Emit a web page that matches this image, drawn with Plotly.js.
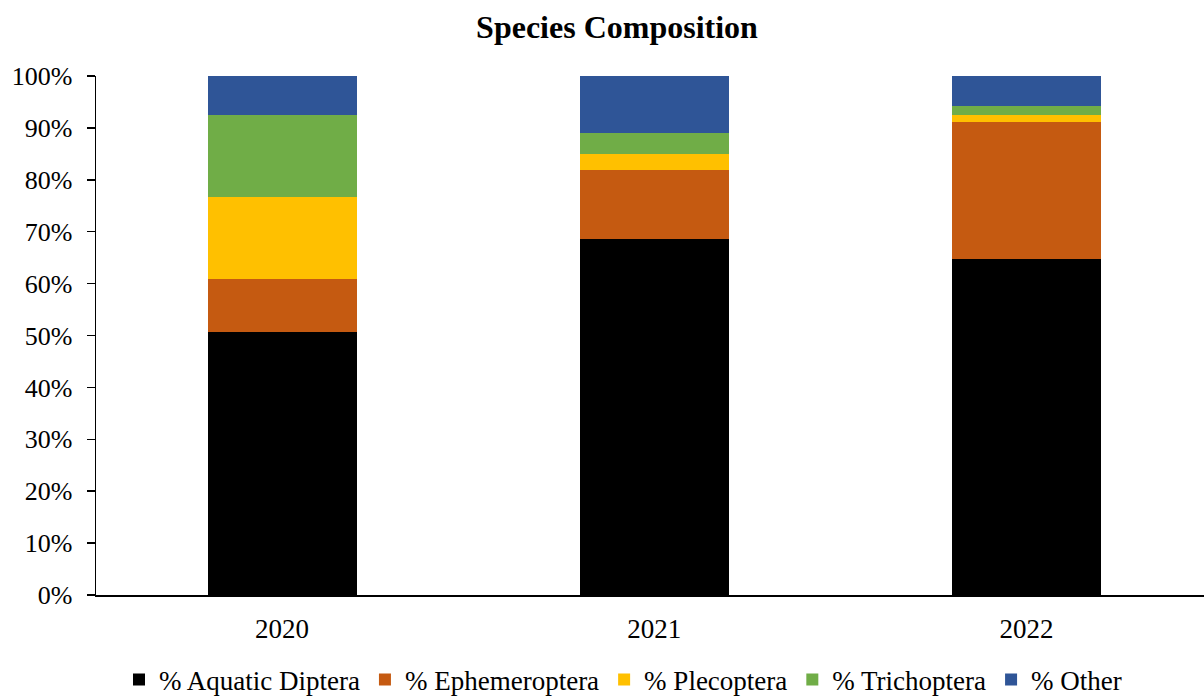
<!DOCTYPE html>
<html>
<head>
<meta charset="utf-8">
<script src="https://cdn.plot.ly/plotly-3.0.1.min.js"></script>
<style>
  html, body { margin: 0; padding: 0; background: #fff; }
  #chart { width: 1204px; height: 696px; }
</style>
</head>
<body>
<div id="chart"></div>
<script>
// Survey years
const years = ['2020', '2021', '2022'];

// Share of each group per year (%)
const aquaticDiptera = [50.7, 68.6, 64.7];
const ephemeroptera  = [10.2, 13.3, 26.5];
const plecoptera     = [15.7, 3.1, 1.3];
const trichoptera    = [15.9, 4.0, 1.7];
const other          = [7.5, 11.0, 5.8];

const seriesNames  = ['% Aquatic Diptera', '% Ephemeroptera', '% Plecoptera', '% Trichoptera', '% Other'];
const seriesValues = [aquaticDiptera, ephemeroptera, plecoptera, trichoptera, other];
const seriesColors = ['#000000', '#C55A11', '#FFC000', '#70AD47', '#2F5597'];

// Y tick labels
const yTickVals = [0, 10, 20, 30, 40, 50, 60, 70, 80, 90, 100];
const yTickText = ['0%', '10%', '20%', '30%', '40%', '50%', '60%', '70%', '80%', '90%', '100%'];

const font = 'Liberation Serif, Times New Roman, serif';

const traces = seriesNames.map((name, i) => ({
  type: 'bar',
  name: name,
  x: years,
  y: seriesValues[i],
  marker: { color: seriesColors[i], line: { width: 0 } },
  hoverinfo: 'x+y+name'
}));

const layout = {
  width: 1204,
  height: 696,
  barmode: 'stack',
  bargap: 0.6,
  paper_bgcolor: '#ffffff',
  plot_bgcolor: '#ffffff',
  margin: { l: 96, r: 0, t: 76, b: 101, autoexpand: false },
  font: { family: font, size: 26, color: '#000000' },
  title: {
    text: '<b>Species Composition</b>',
    font: { family: font, size: 32, color: '#000000' },
    x: 617 / 1204,
    xanchor: 'center',
    xref: 'container',
    y: 1 - 27 / 696,
    yanchor: 'middle',
    yref: 'container'
  },
  xaxis: {
    type: 'category',
    range: [-0.5, 2.477],
    showline: true,
    linecolor: '#000000',
    linewidth: 1.5,
    ticks: '',
    showgrid: false,
    zeroline: false,
    tickfont: { family: font, size: 27, color: '#000000' },
    ticklabelstandoff: 9
  },
  yaxis: {
    range: [0, 100],
    tickvals: yTickVals,
    ticktext: yTickText,
    showline: true,
    linecolor: '#000000',
    linewidth: 1.5,
    ticks: 'outside',
    ticklen: 8,
    tickwidth: 1.5,
    tickcolor: '#000000',
    showgrid: false,
    zeroline: false,
    tickfont: { family: font, size: 26, color: '#000000' },
    ticklabelstandoff: 9
  },
  showlegend: true,
  legend: {
    orientation: 'h',
    x: 623 / 1204,
    xref: 'container',
    xanchor: 'center',
    y: 1 - 680 / 696,
    yref: 'container',
    yanchor: 'middle',
    font: { family: font, size: 27, color: '#000000' },
    itemwidth: 30,
    traceorder: 'normal'
  }
};

Plotly.newPlot('chart', traces, layout, { displayModeBar: false, staticPlot: true });
</script>
</body>
</html>
